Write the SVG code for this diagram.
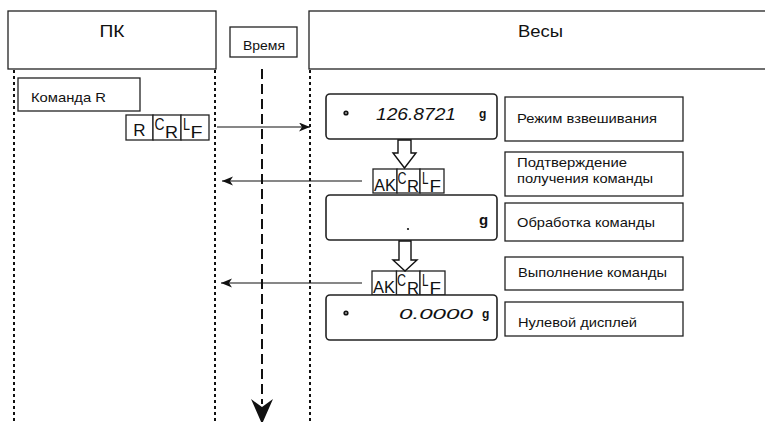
<svg xmlns="http://www.w3.org/2000/svg" width="765" height="422" viewBox="0 0 765 422">
<style>
.bx{fill:#fff;stroke:#222;stroke-width:1.3}
.disp{fill:#fff;stroke:#222;stroke-width:1.6}
.t{font-family:"Liberation Sans",Arial,sans-serif;fill:#111}
.lbl{font-family:"Liberation Sans",Arial,sans-serif;font-size:13px;fill:#111}
.seg{font-family:"Liberation Sans",Arial,sans-serif;font-style:italic;fill:#111}
.gg{font-family:"Liberation Sans",Arial,sans-serif;font-weight:bold;fill:#111}
.dot{stroke:#111;stroke-width:2;stroke-dasharray:3 3;fill:none}
.dash{stroke:#111;stroke-width:2;stroke-dasharray:10 5;fill:none}
.ln{stroke:#111;stroke-width:1.2;fill:none}
.hol{fill:#fff;stroke:#111;stroke-width:1.4}
</style>
<defs>
<marker id="ah" markerUnits="userSpaceOnUse" markerWidth="12" markerHeight="10" refX="11" refY="4.5" orient="auto">
<path d="M0,0 L11,4.5 L0,9 L3,4.5 Z" fill="#111"/>
</marker>
</defs>

<g id="pk">
<rect class="bx" x="8" y="11" width="208" height="58"/>
<text class="t" x="112" y="37" font-size="17" text-anchor="middle" textLength="25" lengthAdjust="spacingAndGlyphs">ПК</text>
</g>
<g id="time">
<rect class="bx" x="230" y="27" width="67" height="30"/>
<text class="t" x="243" y="50" font-size="13" textLength="42" lengthAdjust="spacingAndGlyphs">Время</text>
</g>
<g id="scales">
<rect class="bx" x="309" y="11" width="470" height="58"/>
<text class="t" x="518" y="37" font-size="17" textLength="45" lengthAdjust="spacingAndGlyphs">Весы</text>
</g>

<g id="lifelines">
<line class="dot" x1="14" y1="70" x2="14" y2="422"/>
<line class="dot" x1="215" y1="70" x2="215" y2="422"/>
<line class="dot" x1="310" y1="70" x2="310" y2="422"/>
<line class="dash" x1="262" y1="69" x2="262" y2="404"/>
<path d="M251,399 L262,407 L273,399 L262,424 Z" fill="#111"/>
</g>

<g id="cmdR">
<rect class="bx" x="18" y="78" width="122" height="33"/>
<text class="t" x="31" y="102" font-size="13" textLength="75" lengthAdjust="spacingAndGlyphs">Команда R</text>
</g>

<g id="sendR">
<rect class="bx" x="126" y="115" width="27" height="25"/>
<rect class="bx" x="153" y="115" width="28" height="25"/>
<rect class="bx" x="181" y="115" width="28" height="25"/>
<text class="t" x="139.5" y="136" font-size="17" text-anchor="middle">R</text>
<text class="t" x="154.5" y="130" font-size="16" textLength="10" lengthAdjust="spacingAndGlyphs">C</text>
<text class="t" x="165" y="138" font-size="16" textLength="13" lengthAdjust="spacingAndGlyphs">R</text>
<text class="t" x="183" y="130" font-size="16" textLength="7" lengthAdjust="spacingAndGlyphs">L</text>
<text class="t" x="190.5" y="138" font-size="16" textLength="12" lengthAdjust="spacingAndGlyphs">F</text>
</g>

<g id="ack1">
<rect class="bx" x="373" y="169" width="24" height="24"/>
<rect class="bx" x="397" y="169" width="23" height="24"/>
<rect class="bx" x="420" y="169" width="24" height="24"/>
<text class="t" x="374" y="191" font-size="16" textLength="22" lengthAdjust="spacingAndGlyphs">AK</text>
<text class="t" x="397.5" y="183.5" font-size="16" textLength="9" lengthAdjust="spacingAndGlyphs">C</text>
<text class="t" x="407" y="192" font-size="16" textLength="12" lengthAdjust="spacingAndGlyphs">R</text>
<text class="t" x="422" y="183.5" font-size="16" textLength="6.5" lengthAdjust="spacingAndGlyphs">L</text>
<text class="t" x="429.5" y="192" font-size="16" textLength="11.5" lengthAdjust="spacingAndGlyphs">F</text>
</g>

<g id="ack2">
<rect class="bx" x="372" y="271" width="24.5" height="24"/>
<rect class="bx" x="396.5" y="271" width="23.5" height="24"/>
<rect class="bx" x="420" y="271" width="25" height="24"/>
<text class="t" x="373" y="293" font-size="16" textLength="22" lengthAdjust="spacingAndGlyphs">AK</text>
<text class="t" x="397" y="285.5" font-size="16" textLength="9" lengthAdjust="spacingAndGlyphs">C</text>
<text class="t" x="407" y="294" font-size="16" textLength="12" lengthAdjust="spacingAndGlyphs">R</text>
<text class="t" x="422" y="285.5" font-size="16" textLength="6.5" lengthAdjust="spacingAndGlyphs">L</text>
<text class="t" x="429.5" y="294" font-size="16" textLength="11.5" lengthAdjust="spacingAndGlyphs">F</text>
</g>

<g id="display1">
<rect class="disp" x="326" y="94" width="171" height="45" rx="4"/>
<circle cx="346" cy="113" r="2.6" fill="#111"/>
<circle cx="346" cy="113" r="0.8" fill="#fff"/>
<text class="seg" x="376" y="120" font-size="16.5" textLength="80" lengthAdjust="spacingAndGlyphs">126.8721</text>
<text class="gg" x="479" y="118" font-size="12">g</text>
</g>

<g id="display2">
<rect class="disp" x="326" y="195" width="171" height="45" rx="4"/>
<circle cx="408" cy="229" r="1.1" fill="#111"/>
<text class="gg" x="479" y="225" font-size="15">g</text>
</g>

<g id="display3">
<rect class="disp" x="326" y="295" width="171" height="45" rx="4"/>
<circle cx="346" cy="313" r="2.6" fill="#111"/>
<circle cx="346" cy="313" r="0.8" fill="#fff"/>
<text class="seg" x="399" y="319" font-size="15.5" textLength="74" lengthAdjust="spacingAndGlyphs">0.0000</text>
<text class="gg" x="482" y="318" font-size="12">g</text>
</g>

<g id="label1">
<rect class="bx" x="505" y="97" width="178" height="44"/>
<text class="lbl" x="517" y="123" textLength="140" lengthAdjust="spacingAndGlyphs">Режим взвешивания</text>
</g>
<g id="label2">
<rect class="bx" x="505" y="152" width="178" height="44"/>
<text class="lbl" x="517" y="167" textLength="110" lengthAdjust="spacingAndGlyphs">Подтверждение</text>
<text class="lbl" x="517" y="183" textLength="136" lengthAdjust="spacingAndGlyphs">получения команды</text>
</g>
<g id="label3">
<rect class="bx" x="505" y="203" width="178" height="38"/>
<text class="lbl" x="517" y="227" textLength="138" lengthAdjust="spacingAndGlyphs">Обработка команды</text>
</g>
<g id="label4">
<rect class="bx" x="505" y="257" width="178" height="33"/>
<text class="lbl" x="518" y="277" textLength="149" lengthAdjust="spacingAndGlyphs">Выполнение команды</text>
</g>
<g id="label5">
<rect class="bx" x="505" y="302" width="178" height="34"/>
<text class="lbl" x="518" y="327" textLength="119" lengthAdjust="spacingAndGlyphs">Нулевой дисплей</text>
</g>

<g id="connectors">
<line class="ln" x1="217" y1="127" x2="310" y2="127" marker-end="url(#ah)"/>
<line class="ln" x1="362" y1="181" x2="222" y2="181" marker-end="url(#ah)"/>
<line class="ln" x1="362" y1="283" x2="221" y2="283" marker-end="url(#ah)"/>
<polygon class="hol" points="398,140 411,140 411,153 416,153 404.5,168 393,153 398,153"/>
<polygon class="hol" points="399,241 411,241 411,260 417,260 405,271 393,260 399,260"/>
</g>
</svg>
